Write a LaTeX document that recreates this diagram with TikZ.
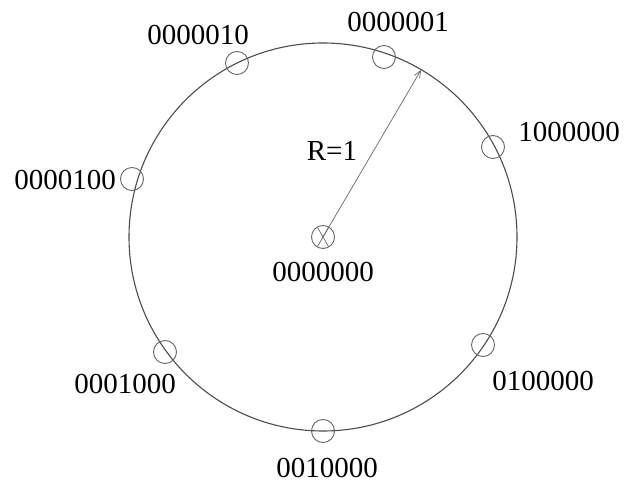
\documentclass[tikz,border=0pt]{standalone}
\usepackage{fontspec}
\setmainfont{Liberation Serif}
\usetikzlibrary{arrows.meta,calc}
\begin{document}
\begin{tikzpicture}[x=1pt,y=-1pt,
  ring/.style={draw=black!70,line width=1.1pt},
  pt/.style={circle,draw=black!60,line width=0.9pt,minimum size=23pt,inner sep=0pt},
  lab/.style={font=\fontsize{29}{34}\selectfont,inner sep=0pt,text=black},
  xl/.style={draw=black!60,line width=0.7pt,shorten >=1pt,shorten <=1pt},
  arr/.style={draw=black!60,line width=0.7pt,-{Straight Barb[length=7pt,width=6pt]}}]
\useasboundingbox (0,0) rectangle (624,486);
\coordinate (c) at (323,237);
\draw[ring] (c) circle[radius=194];
\node[pt] (p0) at (c) {};
\node[pt] (p1) at (384,57) {};
\node[pt] (p2) at (237,63) {};
\node[pt] (p3) at (132,179) {};
\node[pt] (p4) at (165,352) {};
\node[pt] (p5) at (323,431) {};
\node[pt] (p6) at (483,345) {};
\node[pt] (p7) at (493,147) {};
\coordinate (tip) at (421,70);
\draw[arr] (c) -- (tip);
\draw[xl] (p0.120) -- (p0.-60);
\draw[xl] (p0.60) -- (p0.-120);
\node[lab] (l0) at (323,272) {0000000};
\node[lab] (l1) at (398,22) {0000001};
\node[lab] (l2) at (198,35) {0000010};
\node[lab] (l3) at (65,180) {0000100};
\node[lab] (l4) at (125,384) {0001000};
\node[lab] (l5) at (327,468) {0010000};
\node[lab] (l6) at (543,381) {0100000};
\node[lab] (l7) at (569,132) {1000000};
\node[lab] (r) at (332,151) {R=1};
\end{tikzpicture}
\end{document}
